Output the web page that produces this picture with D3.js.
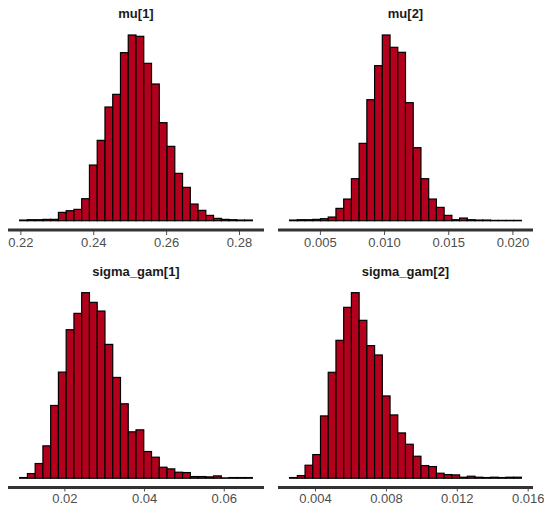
<!DOCTYPE html>
<html>
<head>
<meta charset="utf-8">
<script src="https://cdn.jsdelivr.net/npm/d3@7"></script>
<style>
  body { margin: 0; background: #fff; }
  svg { display: block; font-family: "Liberation Sans", Arial, Helvetica, sans-serif; }
</style>
</head>
<body>
<svg class="hists" width="544" height="506"></svg>
<script>
// parameter names (facet titles)
const paramNames = ['mu[1]', 'mu[2]', 'sigma_gam[1]', 'sigma_gam[2]'];

// first bin edge and bin width for each parameter (30 bins each)
const binStarts = [0.2198, 0.00264, 0.00877, 0.002566];
const binWidths = [0.002129, 0.000602, 0.001947, 0.000436];

// bin counts
const countsMu1 = [2, 3, 3, 4, 4, 25, 30, 34, 66, 167, 241, 341, 379, 504, 557,
                   553, 472, 410, 294, 223, 142, 100, 50, 31, 16, 7, 4, 3, 2, 2];
const countsMu2 = [2, 3, 3, 4, 6, 11, 37, 65, 126, 232, 363, 465, 557, 520, 505,
                   354, 219, 126, 65, 40, 16, 3, 8, 3, 2, 2, 1, 1, 1, 1];
const countsSig1 = [2, 14, 44, 97, 218, 318, 445, 494, 556, 527, 501, 401, 302, 223, 139,
                    145, 80, 63, 33, 28, 18, 17, 5, 5, 4, 7, 1, 2, 2, 2];
const countsSig2 = [2, 8, 39, 71, 187, 318, 414, 513, 557, 474, 398, 370, 247, 190, 136,
                    102, 66, 38, 35, 15, 11, 10, 3, 6, 3, 2, 3, 2, 3, 3];

// axis ticks
const ticksMu1 = [0.22, 0.24, 0.26, 0.28];
const ticksMu2 = [0.005, 0.010, 0.015, 0.020];
const ticksSig1 = [0.02, 0.04, 0.06];
const ticksSig2 = [0.004, 0.008, 0.012, 0.016];
const tickFormats = ['.2f', '.3f', '.2f', '.3f'];

const allCounts = [countsMu1, countsMu2, countsSig1, countsSig2];
const allTicks = [ticksMu1, ticksMu2, ticksSig1, ticksSig2];

// panel boxes [left, right, top, bottom]
const panels = [
  {x0: 8, x1: 264, y0: 25.7, y1: 230, tick: 4, pad: 3},
  {x0: 278, x1: 533, y0: 25.7, y1: 230, tick: 4, pad: 3},
  {x0: 8, x1: 264, y0: 283.4, y1: 487.5, tick: 3, pad: 2},
  {x0: 278, x1: 533, y0: 283.4, y1: 487.5, tick: 3, pad: 2}
];

const fillCol = '#b2001d';

let SVG = d3.select('svg.hists');

function drawPanel(i){
  let p = panels[i];
  let counts = allCounts[i];
  let bins = counts.map((c, k) => ({
    lo: binStarts[i] + k * binWidths[i],
    hi: binStarts[i] + (k + 1) * binWidths[i],
    n: c
  }));

  let lo = bins[0].lo, hi = bins[bins.length - 1].hi;
  let pad = (hi - lo) * 0.05;
  let x = d3.scaleLinear().domain([lo - pad, hi + pad]).range([p.x0, p.x1]);

  let maxN = d3.max(counts);
  let y = d3.scaleLinear().domain([-0.05 * maxN, 1.05 * maxN]).range([p.y1, p.y0]);

  let g = SVG.append('g').attr('class', 'panel');

  g.selectAll('rect.bar')
    .data(bins)
    .enter()
    .append('rect')
    .attr('class', 'bar')
    .attr('x', d => x(d.lo))
    .attr('width', d => x(d.hi) - x(d.lo))
    .attr('y', d => y(d.n))
    .attr('height', d => y(0) - y(d.n))
    .style('fill', fillCol)
    .style('stroke', '#000')
    .style('stroke-width', '1.2px');

  // x axis
  let axis = d3.axisBottom(x)
    .tickValues(allTicks[i])
    .tickFormat(d3.format(tickFormats[i]))
    .tickSize(p.tick)
    .tickPadding(p.pad);

  let ax = g.append('g')
    .attr('transform', `translate(0, ${p.y1 + 1})`)
    .call(axis);

  ax.select('.domain').remove();
  ax.selectAll('.tick line').style('stroke', '#4d4d4d').style('stroke-width', '1px');
  ax.selectAll('.tick text')
    .style('fill', '#4d4d4d')
    .style('font-size', '13px')
    .style('font-family', '"Liberation Sans", Arial, Helvetica, sans-serif');

  g.append('line')
    .attr('x1', p.x0)
    .attr('x2', p.x1)
    .attr('y1', p.y1)
    .attr('y2', p.y1)
    .style('stroke', '#333')
    .style('stroke-width', '3px');

  // facet title
  g.append('text')
    .attr('x', (p.x0 + p.x1) / 2)
    .attr('y', p.y0 - 7.5)
    .attr('text-anchor', 'middle')
    .style('font-weight', 'bold')
    .style('font-size', '13px')
    .style('fill', '#1a1a1a')
    .text(paramNames[i]);
}

paramNames.forEach((d, i) => drawPanel(i));
</script>
</body>
</html>
